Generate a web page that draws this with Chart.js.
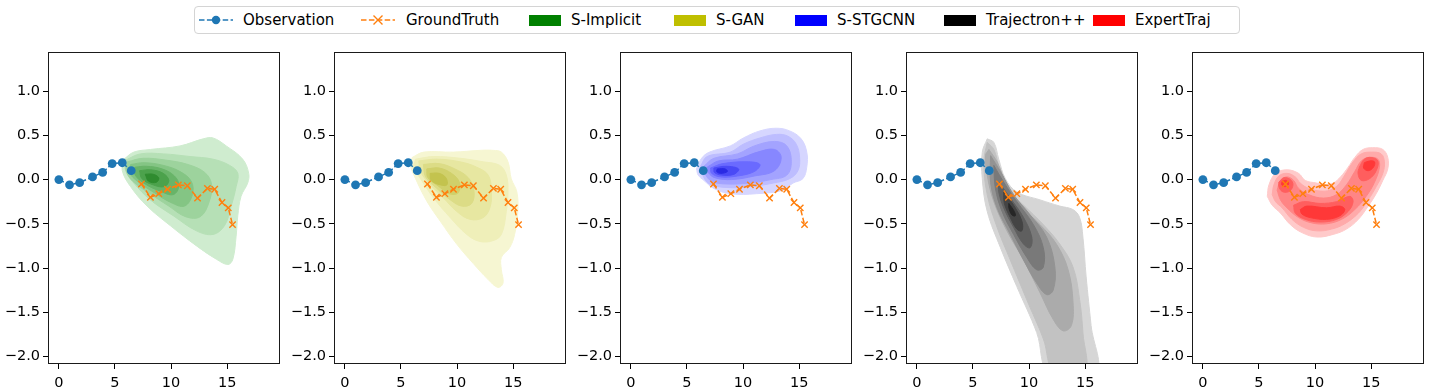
<!DOCTYPE html>
<html>
<head>
<meta charset="utf-8">
<script src="https://cdn.jsdelivr.net/npm/chart.js@4.4.1/dist/chart.umd.min.js"></script>
<style>
  body { margin: 0; background: #fff; width: 1432px; height: 392px; position: relative; overflow: hidden; font-family: 'DejaVu Sans', sans-serif; }
  .panel { position: absolute; top: 40px; width: 286px; height: 352px; }
  #legend { position: absolute; left: 194px; top: 6px; width: 1044px; height: 26px; border: 1px solid #d4d4d4; border-radius: 4px; }
  .item { position: absolute; top: 0; height: 26px; line-height: 26px; font-size: 15px; color: #000; white-space: nowrap; }
  .patch { position: absolute; top: 7.5px; width: 32px; height: 11px; }
</style>
</head>
<body>
<div id="legend"></div>
<div class="panel" style="left:0px"><canvas id="c0" width="286" height="352"></canvas></div>
<div class="panel" style="left:286px"><canvas id="c1" width="286" height="352"></canvas></div>
<div class="panel" style="left:572px"><canvas id="c2" width="286" height="352"></canvas></div>
<div class="panel" style="left:858px"><canvas id="c3" width="286" height="352"></canvas></div>
<div class="panel" style="left:1144px"><canvas id="c4" width="286" height="352"></canvas></div>
<script>
// observed past and ground-truth future (same in every panel)
const obsX = [0, 0.95, 1.85, 3.0, 3.9, 4.75, 5.65, 6.45];
const obsY = [0, -0.06, -0.035, 0.03, 0.08, 0.18, 0.19, 0.10];
const gtX = [7.36, 8.16, 8.91, 9.68, 10.65, 11.45, 12.36, 13.24, 13.89, 14.54, 15.1, 15.48];
const gtY = [-0.05, -0.20, -0.16, -0.11, -0.06, -0.07, -0.21, -0.10, -0.11, -0.26, -0.32, -0.51];

const models = ['S-Implicit', 'S-GAN', 'S-STGCNN', 'Trajectron++', 'ExpertTraj'];
const modelColors = ['#008000', '#bfbf00', '#0000ff', '#000000', '#ff0000'];

const xTicks = [0, 5, 10, 15];
const yTicks = [-2.0, -1.5, -1.0, -0.5, 0.0, 0.5, 1.0];

// density contours, outermost first
const implicitShapes = [
  [[5.80,0.23],[6.68,0.31],[8.16,0.34],[10.80,0.38],[12.86,0.46],[13.74,0.47],[14.92,0.38],[16.39,0.23],[16.92,0.07],[16.83,-0.04],[16.24,-0.19],[15.95,-0.41],[15.80,-0.64],[15.51,-0.90],[15.07,-0.96],[14.03,-0.90],[12.27,-0.75],[9.92,-0.52],[7.86,-0.30],[6.39,-0.08],[5.65,0.10]],
  [[5.95,0.22],[7.27,0.29],[9.33,0.29],[11.69,0.26],[13.74,0.23],[15.22,0.16],[15.95,0.07],[15.80,-0.08],[15.36,-0.30],[14.77,-0.52],[13.74,-0.62],[12.27,-0.58],[10.21,-0.41],[8.16,-0.23],[6.68,-0.04],[5.95,0.10]],
  [[6.1,0.20],[7.5,0.24],[9.5,0.22],[11.5,0.17],[13.0,0.08],[13.6,-0.05],[13.4,-0.25],[12.6,-0.42],[11.3,-0.42],[9.8,-0.30],[8.0,-0.15],[6.6,-0.02],[6.0,0.10]],
  [[6.4,0.17],[7.6,0.19],[9.3,0.16],[10.8,0.09],[11.8,-0.02],[11.9,-0.17],[11.2,-0.30],[10.0,-0.26],[8.4,-0.14],[7.0,-0.02],[6.3,0.08]],
  [[6.8,0.14],[7.8,0.15],[9.2,0.12],[10.3,0.04],[10.7,-0.07],[10.2,-0.17],[9.0,-0.13],[7.7,-0.05],[6.8,0.05]],
  [[7.2,0.10],[8.2,0.11],[9.3,0.07],[9.8,-0.01],[9.4,-0.08],[8.4,-0.06],[7.4,0.01]],
  [[7.7,0.06],[8.4,0.06],[8.9,0.02],[8.7,-0.03],[8.0,-0.02]]
];
const implicitLevel = [0, 1, 2, 3, 4, 5, 6];

const sganShapes = [
  [[6.0,0.25],[7.03,0.31],[9.68,0.31],[12.04,0.33],[13.21,0.33],[13.95,0.31],[14.54,0.20],[14.83,0.01],[15.33,-0.14],[15.42,-0.36],[15.13,-0.62],[14.69,-0.77],[13.95,-0.88],[13.95,-1.02],[14.1,-1.17],[13.65,-1.22],[12.77,-1.13],[11.45,-0.95],[9.97,-0.73],[8.5,-0.47],[7.33,-0.25],[6.3,0.01],[5.86,0.16]],
  [[6.3,0.23],[7.92,0.26],[10.27,0.24],[12.33,0.20],[13.8,0.16],[14.39,0.05],[14.54,-0.14],[14.39,-0.36],[13.95,-0.62],[13.21,-0.69],[12.04,-0.70],[10.86,-0.62],[9.39,-0.43],[7.92,-0.21],[6.74,0.01],[6.15,0.14]],
  [[6.59,0.21],[8.21,0.23],[10.27,0.20],[11.74,0.14],[12.77,0.05],[13.06,-0.14],[12.92,-0.32],[12.33,-0.43],[11.16,-0.45],[9.97,-0.36],[8.8,-0.21],[7.63,-0.06],[6.74,0.09]],
  [[7.0,0.17],[8.4,0.18],[9.8,0.12],[11.0,0.02],[11.5,-0.12],[11.3,-0.27],[10.4,-0.30],[9.3,-0.22],[8.2,-0.10],[7.2,0.03]],
  [[7.3,0.12],[8.4,0.13],[9.5,0.07],[10.2,-0.03],[10.1,-0.15],[9.3,-0.16],[8.3,-0.07],[7.4,0.02]],
  [[7.6,0.07],[8.4,0.07],[9.0,0.02],[9.1,-0.06],[8.5,-0.06],[7.7,-0.01]]
];
const sganLevel = [0, 1, 2, 3, 4, 5];

const stgcnnShapes = [
  [[5.85,0.12],[6.3,0.24],[7.0,0.31],[8.86,0.38],[10.03,0.47],[11.51,0.55],[12.97,0.58],[14.15,0.55],[15.18,0.46],[15.68,0.31],[15.68,0.14],[15.33,0.01],[14.45,-0.04],[13.57,-0.12],[11.21,-0.16],[8.86,-0.16],[7.39,-0.10],[6.51,-0.01],[6.0,0.05]],
  [[6.2,0.15],[6.8,0.26],[8.86,0.31],[10.03,0.40],[11.51,0.47],[12.97,0.51],[14.0,0.49],[14.74,0.40],[15.04,0.25],[14.89,0.10],[14.15,0.01],[12.68,-0.04],[10.62,-0.08],[8.56,-0.09],[7.0,-0.05],[6.4,0.05]],
  [[6.5,0.15],[7.4,0.24],[9.5,0.29],[11.0,0.38],[12.8,0.43],[13.9,0.38],[14.3,0.20],[13.9,0.05],[12.5,0.0],[10.5,-0.04],[8.5,-0.05],[7.2,-0.02],[6.6,0.07]],
  [[6.8,0.14],[7.8,0.21],[9.5,0.23],[11.3,0.31],[12.8,0.34],[13.4,0.25],[12.8,0.10],[11.0,0.04],[9.0,0.0],[7.5,0.02],[6.9,0.08]],
  [[7.1,0.13],[8.2,0.18],[10.5,0.20],[11.5,0.17],[11.0,0.09],[9.5,0.04],[8.0,0.03],[7.2,0.07]],
  [[7.4,0.13],[8.5,0.15],[9.6,0.12],[9.2,0.06],[8.1,0.05],[7.45,0.08]],
  [[7.7,0.12],[8.4,0.12],[8.6,0.09],[8.0,0.07],[7.65,0.09]]
];
const stgcnnLevel = [0, 1, 2, 3, 4, 5, 6];

const trajectronShapes = [
  [[6.27,0.46],[6.86,0.42],[7.3,0.23],[7.89,0.01],[8.91,-0.14],[10.98,-0.23],[12.74,-0.30],[13.92,-0.34],[14.51,-0.43],[14.8,-0.65],[15.09,-1.10],[15.53,-1.65],[15.97,-2.2],[11.85,-2.2],[10.68,-1.73],[8.91,-1.21],[7.45,-0.77],[6.27,-0.36],[5.83,0.01],[5.83,0.31]],
  [[6.27,0.42],[6.86,0.34],[7.45,0.09],[8.33,-0.14],[9.51,-0.29],[11.27,-0.51],[12.74,-0.73],[13.92,-0.99],[14.51,-1.36],[14.8,-1.73],[14.95,-2.2],[12.3,-2.2],[11.27,-1.80],[9.8,-1.36],[8.33,-0.91],[7.15,-0.54],[6.27,-0.17],[5.97,0.20]],
  [[6.42,0.34],[7.15,0.20],[8.03,-0.06],[9.21,-0.29],[10.98,-0.51],[12.44,-0.73],[13.48,-1.02],[13.92,-1.39],[13.77,-1.65],[13.04,-1.71],[12.15,-1.58],[10.98,-1.28],[9.51,-0.91],[8.03,-0.58],[6.86,-0.25],[6.27,0.05],[6.12,0.27]],
  [[6.57,0.27],[7.45,0.09],[8.62,-0.17],[10.1,-0.40],[11.56,-0.65],[12.3,-0.99],[12.15,-1.25],[11.56,-1.30],[10.68,-1.17],[9.51,-0.91],[8.33,-0.62],[7.15,-0.32],[6.57,-0.03]],
  [[6.86,0.16],[7.74,-0.03],[8.91,-0.25],[10.39,-0.51],[11.27,-0.77],[11.27,-0.99],[10.68,-1.02],[9.8,-0.88],[8.62,-0.62],[7.59,-0.36],[7.0,-0.10]],
  [[7.3,-0.03],[8.33,-0.21],[9.51,-0.43],[10.24,-0.65],[10.1,-0.77],[9.51,-0.73],[8.62,-0.54],[7.74,-0.32],[7.3,-0.14]],
  [[7.74,-0.14],[8.62,-0.29],[9.36,-0.47],[9.36,-0.58],[8.91,-0.56],[8.33,-0.43],[7.8,-0.27]],
  [[8.2,-0.27],[8.68,-0.36],[8.77,-0.41],[8.47,-0.40],[8.2,-0.32]]
];
const trajectronLevel = [0, 1, 2, 3, 4, 5, 6, 7];

const expertShapes = [
  [[5.74,-0.19],[5.89,-0.06],[6.48,0.07],[7.5,0.11],[8.53,0.07],[9.12,-0.01],[10.15,-0.04],[10.89,-0.06],[11.62,-0.04],[12.27,0.03],[12.95,0.14],[13.54,0.25],[14.27,0.34],[15.15,0.36],[16.04,0.34],[16.48,0.25],[16.48,0.12],[16.04,-0.01],[15.45,-0.16],[14.74,-0.30],[13.86,-0.45],[12.8,-0.56],[11.62,-0.62],[10.15,-0.65],[8.83,-0.60],[7.8,-0.51],[6.92,-0.38],[6.18,-0.29]],
  [[6.18,-0.17],[6.33,-0.06],[6.77,0.04],[7.5,0.07],[8.24,0.03],[8.68,-0.04],[9.42,-0.10],[10.45,-0.13],[11.33,-0.12],[12.06,-0.06],[12.65,0.05],[13.39,0.20],[14.12,0.29],[15.0,0.31],[15.89,0.29],[16.18,0.20],[16.04,0.07],[15.45,-0.08],[14.74,-0.23],[13.86,-0.38],[12.65,-0.50],[11.47,-0.56],[10.15,-0.58],[8.97,-0.54],[7.94,-0.45],[7.06,-0.32],[6.48,-0.25]],
  [[6.62,-0.12],[6.92,-0.01],[7.5,0.03],[8.09,-0.01],[8.53,-0.10],[9.42,-0.17],[10.74,-0.21],[11.92,-0.17],[12.8,-0.06],[13.54,0.09],[14.12,0.21],[14.86,0.25],[15.6,0.23],[15.74,0.14],[15.3,-0.03],[14.56,-0.19],[13.54,-0.34],[12.36,-0.45],[11.03,-0.50],[9.71,-0.49],[8.53,-0.43],[7.5,-0.32],[6.92,-0.23]],
  [[6.77,-0.03],[7.21,0.02],[7.8,0.0],[8.03,-0.06],[7.74,-0.13],[7.15,-0.14],[6.8,-0.09]],
  [[8.09,-0.29],[8.97,-0.25],[10.45,-0.27],[11.92,-0.25],[13.1,-0.19],[13.39,-0.25],[12.95,-0.36],[11.92,-0.45],[10.45,-0.48],[9.12,-0.45],[8.24,-0.38]],
  [[13.95,0.14],[14.39,0.23],[15.0,0.25],[15.6,0.21],[15.45,0.10],[14.86,0.01],[14.12,-0.01],[13.83,0.07]],
  [[7.06,-0.02],[7.45,-0.01],[7.65,-0.05],[7.36,-0.08],[7.03,-0.06]],
  [[8.68,-0.34],[9.27,-0.30],[11.03,-0.32],[12.21,-0.30],[12.65,-0.34],[12.21,-0.41],[11.03,-0.45],[9.57,-0.43],[8.83,-0.39]],
  [[14.39,0.19],[14.86,0.21],[15.3,0.20],[15.21,0.14],[14.74,0.10],[14.33,0.13]]
];
const expertLevel = [0, 1, 2, 3, 3, 3, 4, 4, 4];

const shapesByModel = [implicitShapes, sganShapes, stgcnnShapes, trajectronShapes, expertShapes];
const levelsByModel = [implicitLevel, sganLevel, stgcnnLevel, trajectronLevel, expertLevel];
const shadesByModel = [
  ['#cfeccf', '#b6e0b6', '#9dd39d', '#84c584', '#68b468', '#4ca24c', '#2f8c2f'],
  ['#f6f6d2', '#efefb9', '#e7e7a1', '#dcdc86', '#d0d06a', '#c3c34e'],
  ['#d6d6ff', '#bdbdff', '#a3a3ff', '#8787ff', '#6a6aff', '#4a4af6', '#2a2ae4'],
  ['#d6d6d6', '#c2c2c2', '#ababab', '#939393', '#797979', '#5f5f5f', '#444444', '#262626'],
  ['#ffcaca', '#ffaaaa', '#ff8585', '#ff5e5e', '#ff3838']
];

// legend
const legendHandleX = [198, 360, 529, 674, 795, 944, 1093];
const legendTextX = [243, 406, 571, 716, 837, 986, 1135];
const legend = document.getElementById('legend');
const legendNames = ['Observation', 'GroundTruth'].concat(models);
let html = '';
html += '<svg class="item" style="left:' + (legendHandleX[0] - 195) + 'px" width="36" height="26">' +
  '<line x1="1" y1="13" x2="35" y2="13" stroke="#1f77b4" stroke-width="1.5" stroke-dasharray="5.5 2.4"/>' +
  '<circle cx="18" cy="13" r="4.2" fill="#1f77b4"/></svg>';
html += '<svg class="item" style="left:' + (legendHandleX[1] - 195) + 'px" width="36" height="26">' +
  '<line x1="1" y1="13" x2="35" y2="13" stroke="#ff7f0e" stroke-width="1.5" stroke-dasharray="5.5 2.4"/>' +
  '<path d="M13.5 8.5 L22.5 17.5 M22.5 8.5 L13.5 17.5" stroke="#ff7f0e" stroke-width="1.4"/></svg>';
modelColors.forEach(function (c, i) {
  html += '<div class="patch" style="left:' + (legendHandleX[i + 2] - 195) + 'px;background:' + c + '"></div>';
});
legendNames.forEach(function (n, i) {
  html += '<span class="item" style="left:' + (legendTextX[i] - 195) + 'px">' + n + '</span>';
});
legend.innerHTML = html;

const frame = {
  id: 'frame',
  afterDatasetsDraw(chart) {
    const a = chart.chartArea, ctx = chart.ctx;
    ctx.save();
    ctx.strokeStyle = '#1a1a1a';
    ctx.lineWidth = 1;
    ctx.strokeRect(Math.round(a.left) + 0.5, Math.round(a.top) + 0.5, Math.round(a.right - a.left) - 1, Math.round(a.bottom - a.top) - 1);
    ctx.restore();
  }
};

function pts(xs, ys) {
  return xs.map(function (x, i) { return {x: x, y: ys[i]}; });
}

function closed(poly) {
  const p = poly.map(function (q) { return {x: q[0], y: q[1]}; });
  p.push(p[0]);
  return p;
}

function minus(v) {
  return v < 0 ? '\u2212' + Math.abs(v).toFixed(1) : v.toFixed(1);
}

for (let m = 0; m < 5; m++) {
  const datasets = [];
  shapesByModel[m].forEach(function (poly, i) {
    const lvl = levelsByModel[m][i];
    const col = shadesByModel[m][lvl];
    datasets.push({
      data: closed(poly),
      borderColor: col,
      backgroundColor: col,
      borderWidth: 1,
      fill: 'shape',
      pointRadius: 0,
      tension: 0.38,
      order: 100 - lvl
    });
  });
  datasets.push({
    label: 'Observation',
    data: pts(obsX, obsY),
    borderColor: '#1f77b4',
    backgroundColor: '#1f77b4',
    borderWidth: 1.5,
    borderDash: [5.5, 2.4],
    pointRadius: 4.4,
    pointBorderWidth: 0,
    fill: false,
    tension: 0,
    order: 1
  });
  datasets.push({
    label: 'GroundTruth',
    data: pts(gtX, gtY),
    borderColor: '#ff7f0e',
    backgroundColor: '#ff7f0e',
    borderWidth: 1.5,
    borderDash: [5.5, 2.4],
    pointStyle: 'crossRot',
    pointRadius: 4.5,
    pointBorderWidth: 1.4,
    pointBorderColor: '#ff7f0e',
    fill: false,
    tension: 0,
    order: 0
  });

  new Chart(document.getElementById('c' + m), {
    type: 'line',
    data: {datasets: datasets},
    options: {
      responsive: false,
      animation: false,
      events: [],
      layout: {padding: {top: 6, right: 3, left: 0, bottom: 0}},
      elements: {line: {capBezierPoints: false}},
      plugins: {legend: {display: false}, tooltip: {enabled: false}},
      scales: {
        x: {
          type: 'linear',
          min: -0.97,
          max: 19.72,
          afterBuildTicks: function (s) { s.ticks = xTicks.map(function (v) { return {value: v}; }); },
          afterFit: function (s) { s.height = 28; },
          grid: {drawOnChartArea: false, drawTicks: true, tickLength: 5, color: '#000'},
          border: {display: false},
          ticks: {color: '#000', padding: 6, maxRotation: 0, font: {family: 'DejaVu Sans', size: 14.5},
            callback: function (v) { return String(v); }}
        },
        y: {
          type: 'linear',
          min: -2.085,
          max: 1.445,
          afterBuildTicks: function (s) { s.ticks = yTicks.map(function (v) { return {value: v}; }); },
          afterFit: function (s) { s.width = 48; },
          grid: {drawOnChartArea: false, drawTicks: true, tickLength: 5, color: '#000'},
          border: {display: false},
          ticks: {color: '#000', padding: 3, font: {family: 'DejaVu Sans', size: 14.5},
            callback: minus}
        }
      }
    },
    plugins: [frame]
  });
}
</script>
</body>
</html>
